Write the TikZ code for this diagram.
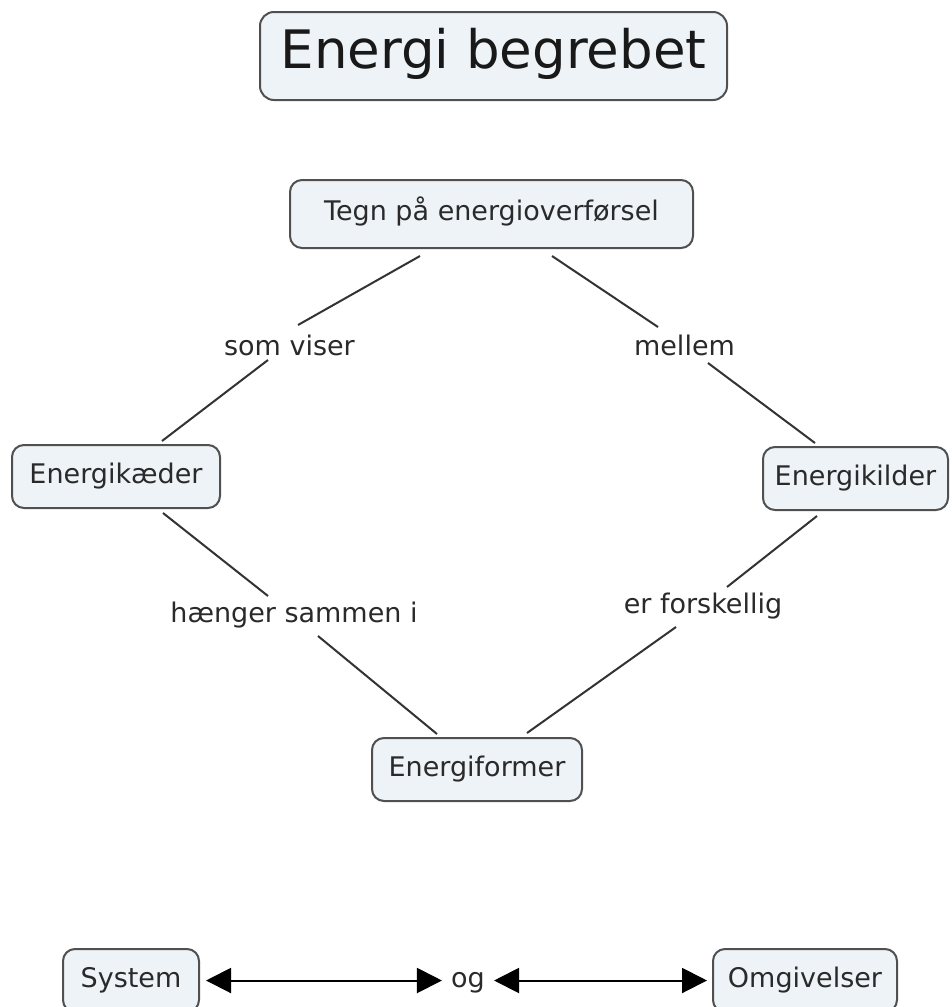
\documentclass[tikz,border=0pt]{standalone}
\usepackage{fontspec}
\setmainfont{DejaVu Sans}
\usetikzlibrary{arrows.meta}
\definecolor{boxfill}{HTML}{EDF3F6}
\definecolor{boxline}{HTML}{505050}
\definecolor{txt}{HTML}{2A2A2A}
\definecolor{conn}{HTML}{333333}
\tikzset{
  concept/.style={draw=boxline, line width=2pt, fill=boxfill, rounded corners=12pt,
    inner sep=0pt, text=txt, font=\fontsize{27}{31}\selectfont,
    text height=19.7pt, text depth=6.5pt},
  linklabel/.style={inner sep=0pt, text=txt, font=\fontsize{27}{31}\selectfont,
    text height=19.7pt, text depth=6.5pt},
  conline/.style={draw=conn, line width=2pt},
  biarrow/.style={draw=black, line width=2pt,
    {Triangle[length=25pt,width=25pt]}-{Triangle[length=25pt,width=25pt]}}
}
\begin{document}
\begin{tikzpicture}[x=1pt,y=-1pt]
\useasboundingbox (0,0) rectangle (951,1007);
\fill[white] (0,0) rectangle (951,1007);

\node[concept, rounded corners=14pt, minimum width=467pt, minimum height=88pt,
  text=black!90, font=\fontsize{53}{60}\selectfont,
  text height=38.6pt, text depth=12.7pt] (title) at (493.5,56) {Energi begrebet};

\node[concept, minimum width=403pt, minimum height=68pt] (tegn) at (491.5,214) {Tegn på energioverførsel};
\node[concept, minimum width=208pt, minimum height=63pt] (kaeder) at (116,476.5) {Energikæder};
\node[concept, minimum width=185pt, minimum height=63pt] (kilder) at (855.5,478.5) {Energikilder};
\node[concept, minimum width=210pt, minimum height=63pt] (former) at (477,769.5) {Energiformer};
\node[concept, minimum width=136pt, minimum height=63pt] (system) at (131,980.5) {System};
\node[concept, minimum width=184pt, minimum height=63pt] (omg) at (805,980.5) {Omgivelser};

\node[linklabel] (somviser) at (289.5,348.6) {som viser};
\node[linklabel] (mellem) at (684.5,348.6) {mellem};
\node[linklabel] (haenger) at (294,615.6) {hænger sammen i};
\node[linklabel] (erfor) at (703,606.6) {er forskellig};
\node[linklabel, inner xsep=9pt] (og) at (468,980.5) {og};

\draw[conline] ([shift={(-71.5,7)}]tegn.south) -- ([shift={(8.5,-23.6)}]somviser.center);
\draw[conline] ([shift={(-21.5,11.4)}]somviser.center) -- ([shift={(46,-3)}]kaeder.north);
\draw[conline] ([shift={(60.5,7)}]tegn.south) -- ([shift={(-26.5,-21.6)}]mellem.center);
\draw[conline] ([shift={(23.5,14.4)}]mellem.center) -- ([shift={(-40.5,-3)}]kilder.north);
\draw[conline] ([shift={(47,4)}]kaeder.south) -- ([shift={(-26,-19.6)}]haenger.center);
\draw[conline] ([shift={(24,20.4)}]haenger.center) -- ([shift={(-40,-3)}]former.north);
\draw[conline] ([shift={(-38.5,5)}]kilder.south) -- ([shift={(24,-19.6)}]erfor.center);
\draw[conline] ([shift={(-27,20.4)}]erfor.center) -- ([shift={(50,-4)}]former.north);

\draw[biarrow, shorten <=6pt] (system.east) -- (og.west);
\draw[biarrow, shorten >=5pt] (og.east) -- (omg.west);
\end{tikzpicture}
\end{document}
